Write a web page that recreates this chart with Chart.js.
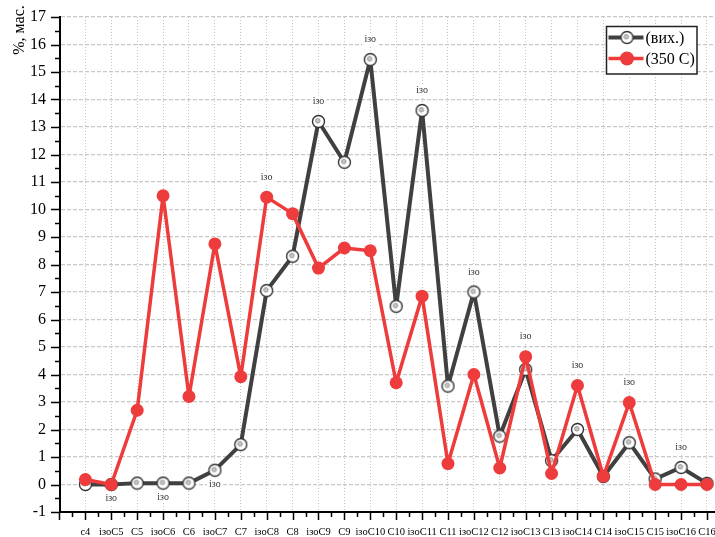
<!DOCTYPE html>
<html>
<head>
<meta charset="utf-8">
<script src="https://cdn.jsdelivr.net/npm/chart.js@4.4.0/dist/chart.umd.min.js"></script>
<style>
    html, body { margin: 0; padding: 0; background: #fff; }
    #wrap { width: 715px; height: 537px; }
</style>
</head>
<body>
<div id="wrap"><canvas id="chartCanvas" width="715" height="537"></canvas></div>
<script>
// Données du graphique
const categories = ['c4', 'ізоC5', 'C5', 'ізоC6', 'C6', 'ізоC7', 'C7', 'ізоC8', 'C8', 'ізоC9', 'C9', 'ізоC10',
    'C10', 'ізоC11', 'C11', 'ізоC12', 'C12', 'ізоC13', 'C13', 'ізоC14', 'C14', 'ізоC15', 'C15', 'ізоC16', 'C16'];
const seriesNames = ['(вих.)', '(350 C)'];
const valuesRaw = [0.0, 0.0, 0.05, 0.05, 0.05, 0.52, 1.45, 7.05, 8.3, 13.2, 11.72, 15.45,
    6.48, 13.6, 3.58, 7.0, 1.76, 4.18, 0.87, 2.0, 0.29, 1.52, 0.2, 0.62, 0.04];
const values350 = [0.18, 0.0, 2.7, 10.5, 3.2, 8.75, 3.92, 10.45, 9.85, 7.87, 8.6, 8.5,
    3.7, 6.85, 0.76, 4.0, 0.6, 4.65, 0.4, 3.6, 0.3, 2.98, 0.0, 0.0, 0.0];
const yTicks = [-1, 0, 1, 2, 3, 4, 5, 6, 7, 8, 9, 10, 11, 12, 13, 14, 15, 16, 17];
const yTitle = '%, мас.';
const noteText = 'ізо';
const notesBelow = ['ізоC5', 'ізоC6', 'ізоC7'];
const notesAbove = ['ізоC8', 'ізоC9', 'ізоC10', 'ізоC11', 'ізоC12', 'ізоC13', 'ізоC14', 'ізоC15', 'ізоC16'];

const serif = '"Liberation Serif", "DejaVu Serif", serif';
const colorRaw = '#404040';
const colorHot = '#ee3b3b';

// Marqueur du premier jeu : cercle blanc avec petit point gris
function makeMarker() {
    const c = document.createElement('canvas');
    c.width = 15; c.height = 15;
    const g = c.getContext('2d');
    g.beginPath();
    g.arc(7.5, 7.5, 6, 0, Math.PI * 2);
    g.fillStyle = '#fff';
    g.fill();
    g.lineWidth = 1.4;
    g.strokeStyle = '#333';
    g.stroke();
    g.beginPath();
    g.arc(6.8, 6.8, 2.3, 0, Math.PI * 2);
    g.fillStyle = '#c4c4c4';
    g.fill();
    g.lineWidth = 0.8;
    g.strokeStyle = '#8a8a8a';
    g.stroke();
    return c;
}
const rawMarker = makeMarker();

const toPoints = arr => arr.map((v, i) => ({ x: i, y: v }));

// Graduations, titre, notes "ізо" et légende
const extras = {
    id: 'extras',
    afterDraw(chart) {
        const { ctx, chartArea: a, scales: { x, y } } = chart;
        ctx.save();

        // petites graduations des axes
        ctx.strokeStyle = '#000';
        ctx.lineWidth = 1.5;
        ctx.beginPath();
        for (let v = yTicks[0]; v <= yTicks[yTicks.length - 1]; v += 0.5) {
            const py = Math.round(y.getPixelForValue(v)) + 0.5;
            const len = Number.isInteger(v) ? 9 : 5;
            ctx.moveTo(a.left - len, py);
            ctx.lineTo(a.left, py);
        }
        for (let v = -1; v <= categories.length - 0.5; v += 0.5) {
            const px = Math.round(x.getPixelForValue(v)) + 0.5;
            const len = Number.isInteger(v) ? 8 : 5;
            ctx.moveTo(px, a.bottom);
            ctx.lineTo(px, a.bottom + len);
        }
        ctx.stroke();

        // titre de l'axe Y
        ctx.save();
        ctx.translate(20, 30);
        ctx.rotate(-Math.PI / 2);
        ctx.fillStyle = '#000';
        ctx.font = '16px ' + serif;
        ctx.textAlign = 'center';
        ctx.textBaseline = 'middle';
        ctx.fillText(yTitle, 0, 0);
        ctx.restore();

        // notes "ізо"
        ctx.font = '10px ' + serif;
        ctx.textAlign = 'center';
        ctx.textBaseline = 'middle';
        const drawNote = (px, py) => {
            const w = ctx.measureText(noteText).width;
            ctx.fillStyle = '#fff';
            ctx.fillRect(px - w / 2 - 2, py - 6, w + 4, 12);
            ctx.fillStyle = '#333';
            ctx.fillText(noteText, px, py);
        };
        notesBelow.forEach(name => {
            const i = categories.indexOf(name);
            drawNote(x.getPixelForValue(i), y.getPixelForValue(valuesRaw[i]) + 14);
        });
        notesAbove.forEach(name => {
            const i = categories.indexOf(name);
            const top = Math.max(valuesRaw[i], values350[i]);
            drawNote(x.getPixelForValue(i), y.getPixelForValue(top) - 20);
        });

        // légende
        const bx = a.right - 108.5, by = a.top + 9.5, bw = 90.5, bh = 47.5;
        ctx.fillStyle = '#fff';
        ctx.fillRect(bx, by, bw, bh);
        ctx.strokeStyle = '#222';
        ctx.lineWidth = 1.5;
        ctx.strokeRect(bx, by, bw, bh);
        chart.data.datasets.forEach((ds, k) => {
            const ry = by + 11 + k * 21;
            ctx.strokeStyle = ds.borderColor;
            ctx.lineWidth = ds.borderWidth;
            ctx.beginPath();
            ctx.moveTo(bx + 2, ry);
            ctx.lineTo(bx + 37, ry);
            ctx.stroke();
            if (k === 0) {
                ctx.drawImage(rawMarker, bx + 20.5 - 7.5, ry - 7.5);
            } else {
                ctx.beginPath();
                ctx.arc(bx + 20.5, ry, 7, 0, Math.PI * 2);
                ctx.fillStyle = ds.backgroundColor;
                ctx.fill();
            }
            ctx.fillStyle = '#000';
            ctx.font = '16px ' + serif;
            ctx.textAlign = 'left';
            ctx.textBaseline = 'middle';
            ctx.fillText(ds.label, bx + 39, ry + 1);
        });
        ctx.restore();
    }
};

function buildChart() {
    const ctx = document.getElementById('chartCanvas').getContext('2d');
    new Chart(ctx, {
        type: 'line',
        data: {
            datasets: [
                {
                    label: seriesNames[0],
                    data: toPoints(valuesRaw),
                    borderColor: colorRaw,
                    backgroundColor: '#fff',
                    borderWidth: 4,
                    borderJoinStyle: 'round',
                    pointStyle: rawMarker,
                    pointRadius: 7,
                    order: 1,
                    clip: false
                },
                {
                    label: seriesNames[1],
                    data: toPoints(values350),
                    borderColor: colorHot,
                    backgroundColor: colorHot,
                    borderWidth: 3.5,
                    borderJoinStyle: 'round',
                    pointRadius: 6.5,
                    pointBorderWidth: 0,
                    order: 0,
                    clip: false
                }
            ]
        },
        options: {
            responsive: false,
            animation: false,
            events: [],
            layout: { autoPadding: false, padding: { top: 17, right: 0, left: 0, bottom: 0 } },
            plugins: {
                legend: { display: false },
                tooltip: { enabled: false }
            },
            scales: {
                x: {
                    type: 'linear',
                    min: -0.98,
                    max: 24.31,
                    afterBuildTicks: s => { s.ticks = categories.map((_, i) => ({ value: i })); },
                    afterFit: s => { s.height = 25; s.paddingLeft = 0; s.paddingRight = 0; },
                    ticks: {
                        autoSkip: false,
                        maxRotation: 0,
                        padding: 14,
                        color: '#000',
                        font: { family: serif, size: 10.5 },
                        callback: v => categories[v]
                    },
                    grid: { color: '#c4c4c4', lineWidth: 1, drawTicks: false },
                    border: { display: true, color: '#000', width: 2, dash: [1, 2] }
                },
                y: {
                    min: -1,
                    max: 17,
                    afterBuildTicks: s => { s.ticks = yTicks.map(v => ({ value: v })); },
                    afterFit: s => { s.width = 60; s.paddingTop = 0; s.paddingBottom = 0; },
                    ticks: {
                        padding: 14,
                        color: '#000',
                        font: { family: serif, size: 16 }
                    },
                    grid: { color: '#c8c8c8', lineWidth: 1.3, drawTicks: false },
                    border: { display: true, color: '#000', width: 2, dash: [4, 2] }
                }
            }
        },
        plugins: [extras]
    });
}

document.addEventListener('DOMContentLoaded', buildChart);
</script>
</body>
</html>
